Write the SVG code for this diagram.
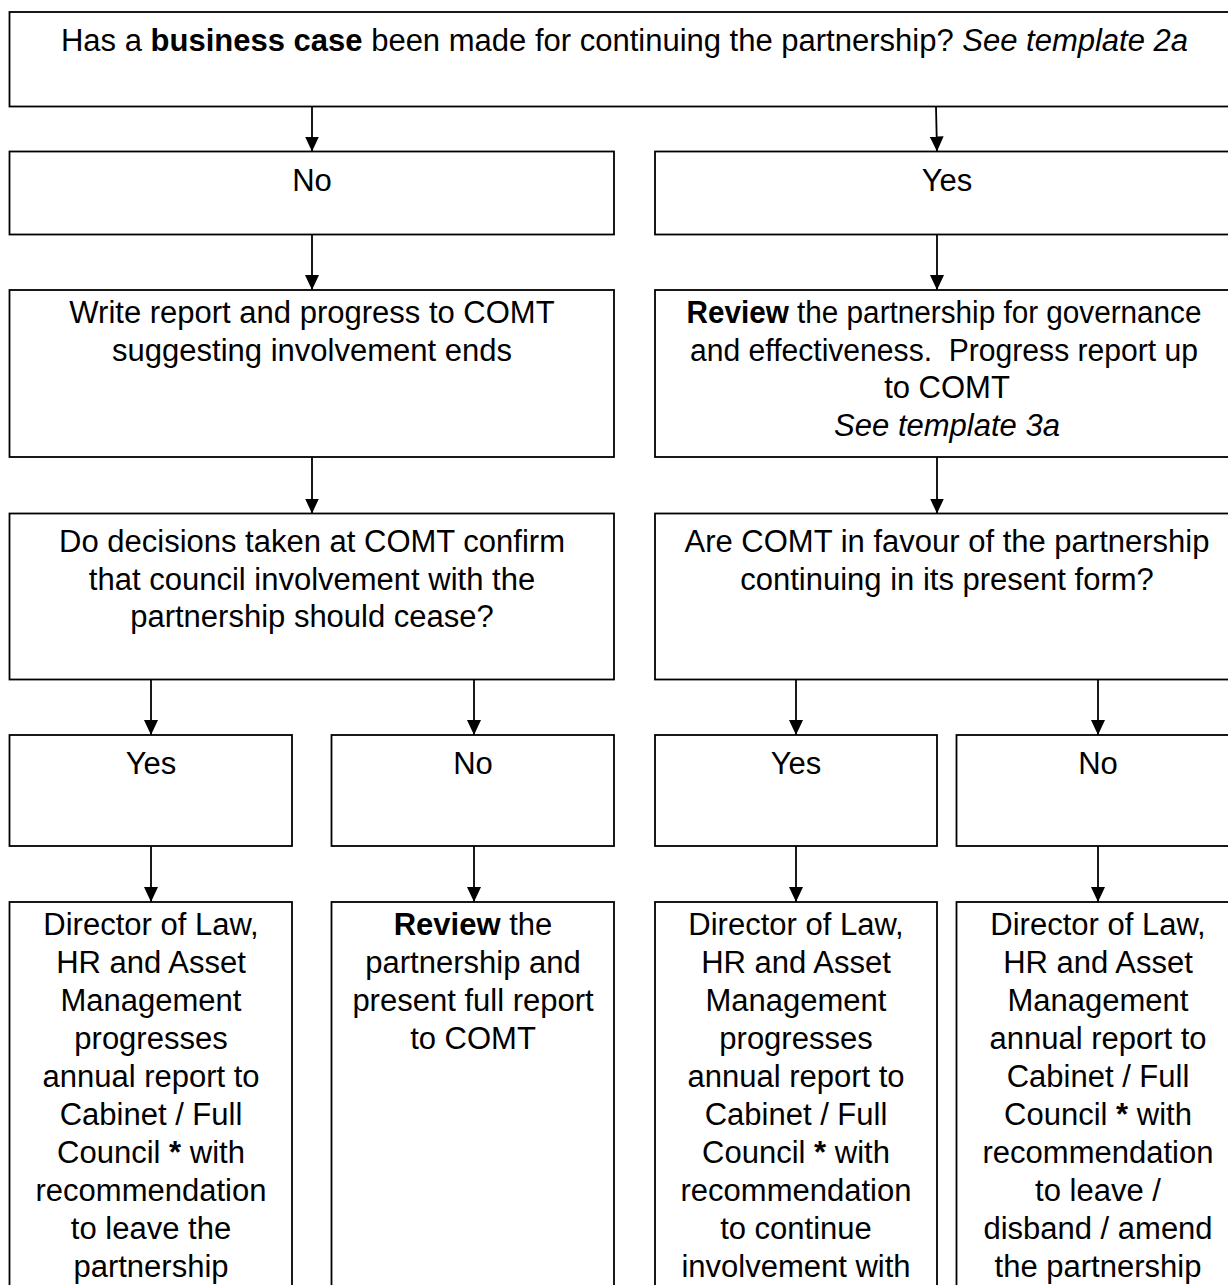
<svg xmlns="http://www.w3.org/2000/svg" width="1228" height="1285" viewBox="0 0 1228 1285">
<style>
.box{fill:#fff;stroke:#000;stroke-width:1.8}
text{font-family:"Liberation Sans",Arial,sans-serif;font-size:31px;fill:#000;text-anchor:middle}
.b{font-weight:bold}
.i{font-style:italic}
.c line{stroke:#000;stroke-width:1.8}
</style>
<defs>
<marker id="ah" markerWidth="15" markerHeight="14" refX="15" refY="7" orient="auto" markerUnits="userSpaceOnUse" viewBox="0 0 15 14">
<path d="M0,0 L15,7 L0,14 Z" fill="#000"/>
</marker>
</defs>
<rect width="1228" height="1285" fill="#fff"/>
<g id="q1"><rect class="box" x="9.5" y="12" width="1230" height="94.5"/>
<text x="624.5" y="51">Has a <tspan class="b">business case</tspan> been made for continuing the partnership? <tspan class="i">See template 2a</tspan></text></g>
<g id="no1"><rect class="box" x="9.5" y="151.5" width="604.5" height="83"/><text x="312" y="191">No</text></g>
<g id="yes1"><rect class="box" x="655" y="151.5" width="585" height="83"/><text x="947" y="191">Yes</text></g>
<g id="report"><rect class="box" x="9.5" y="290" width="604.5" height="167"/>
<text x="312" y="323">Write report and progress to COMT</text>
<text x="312" y="360.5">suggesting involvement ends</text></g>
<g id="review"><rect class="box" x="655" y="290" width="585" height="167"/>
<text x="944" y="323" textLength="515" lengthAdjust="spacingAndGlyphs"><tspan class="b">Review</tspan> the partnership for governance</text>
<text x="944" y="360.5" xml:space="preserve" textLength="508" lengthAdjust="spacingAndGlyphs">and effectiveness.  Progress report up</text>
<text x="947" y="398">to COMT</text>
<text x="947" y="435.5" class="i">See template 3a</text></g>
<g id="q2"><rect class="box" x="9.5" y="513.5" width="604.5" height="166"/>
<text x="312" y="552">Do decisions taken at COMT confirm</text>
<text x="312" y="589.5">that council involvement with the</text>
<text x="312" y="627">partnership should cease?</text></g>
<g id="q3"><rect class="box" x="655" y="513.5" width="585" height="166"/>
<text x="947" y="552">Are COMT in favour of the partnership</text>
<text x="947" y="589.5">continuing in its present form?</text></g>
<g id="yes2"><rect class="box" x="9.5" y="735" width="282.5" height="111"/><text x="151" y="774">Yes</text></g>
<g id="no2"><rect class="box" x="331.5" y="735" width="282.5" height="111"/><text x="473" y="774">No</text></g>
<g id="yes3"><rect class="box" x="655" y="735" width="282" height="111"/><text x="796" y="774">Yes</text></g>
<g id="no3"><rect class="box" x="956.5" y="735" width="283" height="111"/><text x="1098" y="774">No</text></g>
<g id="leave1"><rect class="box" x="9.5" y="902" width="282.5" height="400"/>
<text x="151" y="935">Director of Law,</text>
<text x="151" y="973">HR and Asset</text>
<text x="151" y="1011">Management</text>
<text x="151" y="1049">progresses</text>
<text x="151" y="1087">annual report to</text>
<text x="151" y="1125">Cabinet / Full</text>
<text x="151" y="1163">Council <tspan class="b">*</tspan> with</text>
<text x="151" y="1201">recommendation</text>
<text x="151" y="1239">to leave the</text>
<text x="151" y="1277">partnership</text></g>
<g id="review2"><rect class="box" x="331.5" y="902" width="282.5" height="400"/>
<text x="473" y="935"><tspan class="b">Review</tspan> the</text>
<text x="473" y="973">partnership and</text>
<text x="473" y="1011">present full report</text>
<text x="473" y="1049">to COMT</text></g>
<g id="continue"><rect class="box" x="655" y="902" width="282" height="400"/>
<text x="796" y="935">Director of Law,</text>
<text x="796" y="973">HR and Asset</text>
<text x="796" y="1011">Management</text>
<text x="796" y="1049">progresses</text>
<text x="796" y="1087">annual report to</text>
<text x="796" y="1125">Cabinet / Full</text>
<text x="796" y="1163">Council <tspan class="b">*</tspan> with</text>
<text x="796" y="1201">recommendation</text>
<text x="796" y="1239">to continue</text>
<text x="796" y="1277">involvement with</text></g>
<g id="amend"><rect class="box" x="956.5" y="902" width="283" height="400"/>
<text x="1098" y="935">Director of Law,</text>
<text x="1098" y="973">HR and Asset</text>
<text x="1098" y="1011">Management</text>
<text x="1098" y="1049">annual report to</text>
<text x="1098" y="1087">Cabinet / Full</text>
<text x="1098" y="1125">Council <tspan class="b">*</tspan> with</text>
<text x="1098" y="1163">recommendation</text>
<text x="1098" y="1201">to leave /</text>
<text x="1098" y="1239">disband / amend</text>
<text x="1098" y="1277">the partnership</text></g>
<g class="c" id="connectors">
<line x1="312" y1="106.5" x2="312" y2="151.5" marker-end="url(#ah)"/>
<line x1="936" y1="106.5" x2="937" y2="151.5" marker-end="url(#ah)"/>
<line x1="312" y1="234.5" x2="312" y2="290" marker-end="url(#ah)"/>
<line x1="937" y1="234.5" x2="937" y2="290" marker-end="url(#ah)"/>
<line x1="312" y1="457" x2="312" y2="513.5" marker-end="url(#ah)"/>
<line x1="937" y1="457" x2="937" y2="513.5" marker-end="url(#ah)"/>
<line x1="151" y1="679.5" x2="151" y2="735" marker-end="url(#ah)"/>
<line x1="474" y1="679.5" x2="474" y2="735" marker-end="url(#ah)"/>
<line x1="796" y1="679.5" x2="796" y2="735" marker-end="url(#ah)"/>
<line x1="1098" y1="679.5" x2="1098" y2="735" marker-end="url(#ah)"/>
<line x1="151" y1="846" x2="151" y2="902" marker-end="url(#ah)"/>
<line x1="474" y1="846" x2="474" y2="902" marker-end="url(#ah)"/>
<line x1="796" y1="846" x2="796" y2="902" marker-end="url(#ah)"/>
<line x1="1098" y1="846" x2="1098" y2="902" marker-end="url(#ah)"/>
</g>
</svg>
